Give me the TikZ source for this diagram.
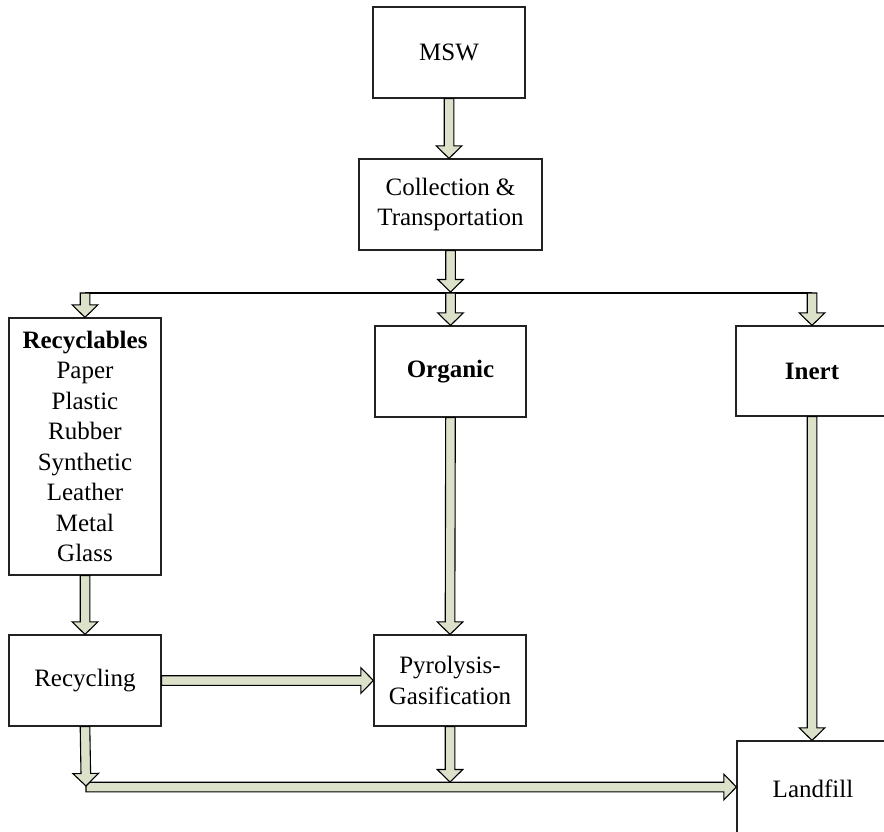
\documentclass[tikz,border=0pt]{standalone}
\usepackage{fontspec}
\setmainfont{Liberation Serif}
\usetikzlibrary{calc}

\definecolor{arrowfill}{HTML}{DCE1CA}
\definecolor{boxline}{HTML}{222222}

% dimensions of the block arrows
\newcommand\halfshaft{4.8pt}
\newcommand\halfhead{12.8pt}
\newcommand\headlen{12.5pt}

% block arrow from #1 to #2 (two coordinates in parentheses)
\newcommand\fatarrow[2]{%
  \path #1 coordinate (fa-s) #2 coordinate (fa-t);
  \coordinate (fa-h) at ($(fa-t)!\headlen!(fa-s)$);
  \filldraw[blockarrow]
    ($(fa-s)!\halfshaft!90:(fa-t)$) --
    ($(fa-h)!\halfshaft!-90:(fa-s)$) --
    ($(fa-h)!\halfhead!-90:(fa-s)$) --
    (fa-t) --
    ($(fa-h)!\halfhead!90:(fa-s)$) --
    ($(fa-h)!\halfshaft!90:(fa-s)$) --
    ($(fa-s)!\halfshaft!-90:(fa-t)$) -- cycle;
}

\tikzset{
  stagebox/.style={draw=boxline, line width=1.2pt, fill=white, inner sep=0pt,
    align=center, minimum width=152pt, minimum height=91pt,
    font=\fontsize{25}{30.5}\selectfont},
  blockarrow/.style={fill=arrowfill, draw=black, line width=1.1pt, line join=miter},
  branchline/.style={draw=black, line width=1.1pt},
}

\begin{document}
\begin{tikzpicture}[x=1pt, y=-1pt]
  \useasboundingbox (0,0) rectangle (884,831);
  \clip (0,0) rectangle (884,831);

  % process stages
  \node[stagebox] (msw)   at (449,52.5)  {MSW};
  \node[stagebox, minimum width=183pt] (coll) at (450.5,204.5) {Collection \&\\Transportation};
  \node[stagebox, minimum height=257pt] (recyc) at (85,446.5)
    {\textbf{Recyclables}\\Paper\\Plastic\\Rubber\\Synthetic\\Leather\\Metal\\Glass};
  \node[stagebox, minimum width=151pt] (org) at (450.5,371.5) {\textbf{Organic}};
  \node[stagebox, minimum height=90pt] (inert) at (812,371) {\textbf{Inert}};
  \node[stagebox] (recl)  at (85,680.5)  {Recycling};
  \node[stagebox] (pyro)  at (450,680.5) {Pyrolysis-\\Gasification};
  \node[stagebox, minimum height=95pt] (land) at (813,788.5) {Landfill};

  % sorting branch
  \coordinate (branch) at (0,293);
  \draw[branchline] (recyc.north |- branch) -- (inert.north |- branch);

  \fatarrow{(msw.south)}{(msw.south |- coll.north)}
  \fatarrow{(coll.south)}{($(coll.south |- branch)+(0,-1)$)}
  \fatarrow{(recyc.north |- branch)}{(recyc.north)}
  \fatarrow{(org.north |- branch)}{(org.north)}
  \fatarrow{(inert.north |- branch)}{(inert.north)}

  % downstream flows
  \fatarrow{(recyc.south)}{(recl.north)}
  \fatarrow{(org.south)}{(pyro.north)}
  \fatarrow{(recl.east)}{(recl.east -| pyro.west)}
  \fatarrow{(inert.south)}{(inert.south |- land.north)}

  % residue line to landfill
  \coordinate (bus) at (86,787);
  \fatarrow{(bus)}{(bus -| land.west)}
  \fatarrow{(recl.south)}{($(recl.south |- bus)+(1,-1)$)}
  \fatarrow{(pyro.south)}{($(pyro.south |- bus)+(0,-5)$)}
\end{tikzpicture}
\end{document}
